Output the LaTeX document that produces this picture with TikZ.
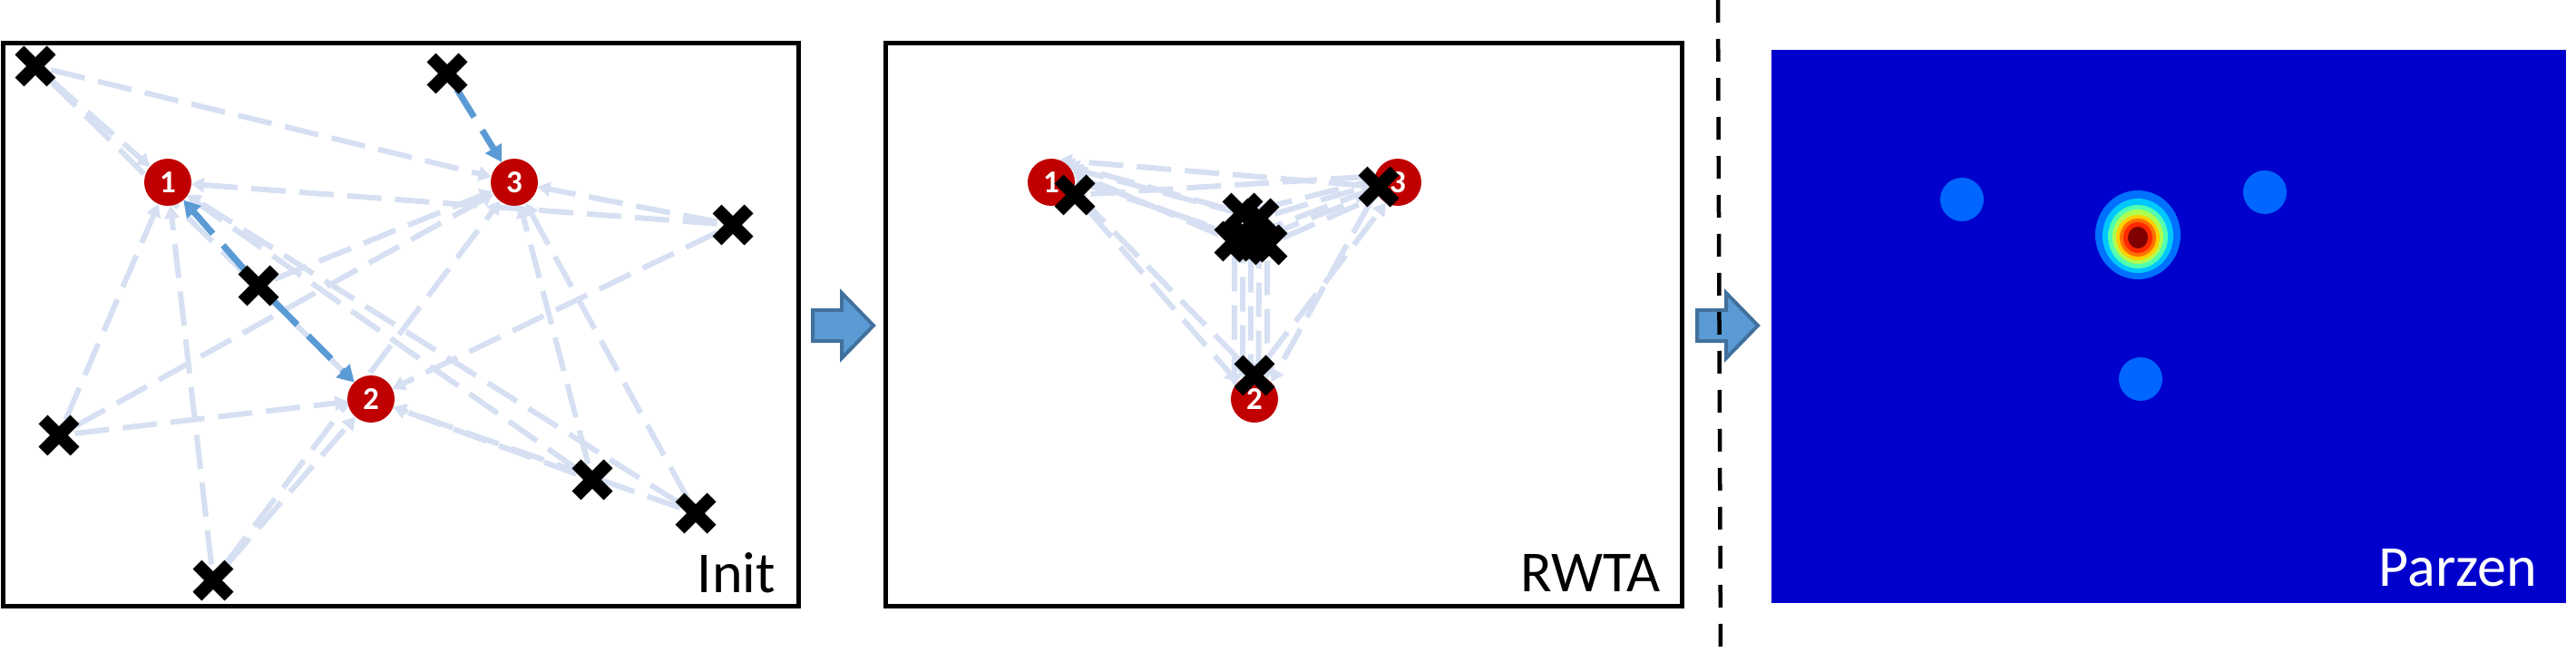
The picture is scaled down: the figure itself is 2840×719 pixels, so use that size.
\documentclass[tikz,border=0pt]{standalone}
\usepackage{fontspec}
\setmainfont{Carlito}
\usetikzlibrary{arrows.meta,shapes.misc}
\pgfdeclarelayer{bg}
\pgfdeclarelayer{mid}
\pgfsetlayers{bg,mid,main}
\definecolor{cred}{RGB}{192,0,0}
\definecolor{liteblue}{RGB}{214,224,242}
\definecolor{midblue}{RGB}{91,155,213}
\definecolor{edgeblue}{RGB}{65,113,156}
\definecolor{jetbg}{RGB}{0,0,205}
\definecolor{jetlb}{RGB}{0,102,255}
\definecolor{jeta}{RGB}{0,112,255}
\definecolor{jetb}{RGB}{0,200,255}
\definecolor{jetc}{RGB}{80,255,176}
\definecolor{jetd}{RGB}{176,255,80}
\definecolor{jete}{RGB}{255,208,0}
\definecolor{jetf}{RGB}{255,112,0}
\definecolor{jetg}{RGB}{255,40,0}
\definecolor{jeth}{RGB}{128,0,0}
\begin{document}
\begin{tikzpicture}[x=1pt,y=-1pt,
  ctr/.style={circle, fill=cred, minimum size=52pt, inner sep=0pt, outer sep=0pt,
    text=white, font=\bfseries\fontsize{35}{35}\selectfont},
  xm/.style={cross out, draw=black, line width=14pt, minimum size=21pt, inner sep=0pt},
  lite/.style={draw=liteblue, line width=6pt, dash pattern=on 38pt off 15pt,
    -{Triangle[length=14pt,width=16pt]}},
  darkarr/.style={draw=midblue, line width=7pt, dash pattern=on 36pt off 17pt,
    -{Triangle[length=18pt,width=20pt]}},
  panel/.style={draw=black, line width=5pt},
  blockarr/.style={fill=midblue, draw=edgeblue, line width=4pt, line join=miter},
  lbl/.style={font=\fontsize{64}{64}\selectfont, inner sep=0pt, anchor=base east},
  dot/.style={fill=jetlb}
]
\useasboundingbox (0,0) rectangle (2840,719);

% ---------- panel frames ----------
\draw[panel] (3,48) rectangle (880,668);
\draw[panel] (976,48) rectangle (1854,668);
\fill[jetbg] (1953,55) rectangle (2829,665);

% ---------- prototypes (circles) ----------
\begin{pgfonlayer}{mid}
\node[ctr] (a1) at (185,201) {1};
\node[ctr] (a2) at (409,440) {2};
\node[ctr] (a3) at (567,201) {3};
\node[ctr] (b1) at (1159,201) {1};
\node[ctr] (b2) at (1383,440) {2};
\node[ctr] (b3) at (1541,201) {3};
\end{pgfonlayer}

% ---------- samples (crosses), panel 1 ----------
\node[xm] (p1) at (39,73) {};
\node[xm] (p2) at (493,81) {};
\node[xm] (p3) at (808,248) {};
\node[xm] (p4) at (285,315) {};
\node[xm] (p5) at (65,480) {};
\node[xm] (p6) at (653,529) {};
\node[xm] (p7) at (767,566) {};
\node[xm] (p8) at (235,640) {};

% ---------- samples, panel 2 ----------
\node[xm] (q1) at (1185,215) {};
\node[xm] (q2) at (1383,414) {};
\node[xm] (q3) at (1520,206) {};
\node[xm] (k1) at (1370,235) {};
\node[xm] (k2) at (1388,241) {};
\node[xm] (k3) at (1361,266) {};
\node[xm] (k4) at (1379,267) {};
\node[xm] (k5) at (1397,270) {};

% ---------- connectors ----------
\begin{pgfonlayer}{bg}
\foreach \s in {p1,p3,p5,p6,p7,p8}
  \foreach \t in {a1,a2,a3}
    \draw[lite] (\s) -- (\t);
\draw[lite] (p4) -- (a3);
\draw[darkarr] (p2) -- (a3);
\draw[darkarr] (p4) -- (a1);
\draw[darkarr] (p4) -- (a2);

\foreach \s/\u/\v/\w in {k1/50/175/120, k2/38/185/80, k3/25/195/148,
                         k4/14/205/99, k5/4/215/57}{
  \draw[lite] (\s) -- (b1.\u);
  \draw[lite] (\s) -- (b3.\v);
  \draw[lite] (\s) -- (b2.\w);
}
\draw[lite] (q1) -- (b2.135);
\draw[lite] (q1) -- (b3.165);
\draw[lite] (q3) -- (b1.70);
\draw[lite] (q3) -- (b2.45);
\draw[lite] (q2) -- (b1.-20);
\draw[lite] (q2) -- (b3.-120);
\end{pgfonlayer}

% ---------- block arrows ----------
\draw[blockarr] (896,342) -- (928,342) -- (928,323) -- (963,359) -- (928,395)
  -- (928,376) -- (896,376) -- cycle;
\draw[blockarr] (1871,342) -- (1903,342) -- (1903,323) -- (1938,359) -- (1903,395)
  -- (1903,376) -- (1871,376) -- cycle;

% ---------- separator ----------
\draw[black, line width=4.5pt, dash pattern=on 25pt off 18pt] (1894,0) -- (1897,719);

% ---------- Parzen density ----------
\fill[dot] (2163,220) circle [radius=24];
\fill[dot] (2497,212) circle [radius=24];
\fill[dot] (2360,418) circle [radius=24];
\fill[jeta] (2357,259) ellipse [x radius=47, y radius=49];
\fill[jetb] (2357,260) ellipse [x radius=39, y radius=41];
\fill[jetc] (2357,261) ellipse [x radius=33, y radius=35];
\fill[jetd] (2357,261) ellipse [x radius=28, y radius=30];
\fill[jete] (2357,262) ellipse [x radius=24, y radius=25];
\fill[jetf] (2357,262) ellipse [x radius=20, y radius=21];
\fill[jetg] (2357,262) ellipse [x radius=16, y radius=17];
\fill[jeth] (2357,262) ellipse [x radius=11, y radius=12];

% ---------- labels ----------
\node[lbl] (tinit) at (855,653) {Init};
\node[lbl] (trwta) at (1831,652) {RWTA};
\node[lbl, text=white] (tparzen) at (2797,646) {Parzen};
\end{tikzpicture}
\end{document}
